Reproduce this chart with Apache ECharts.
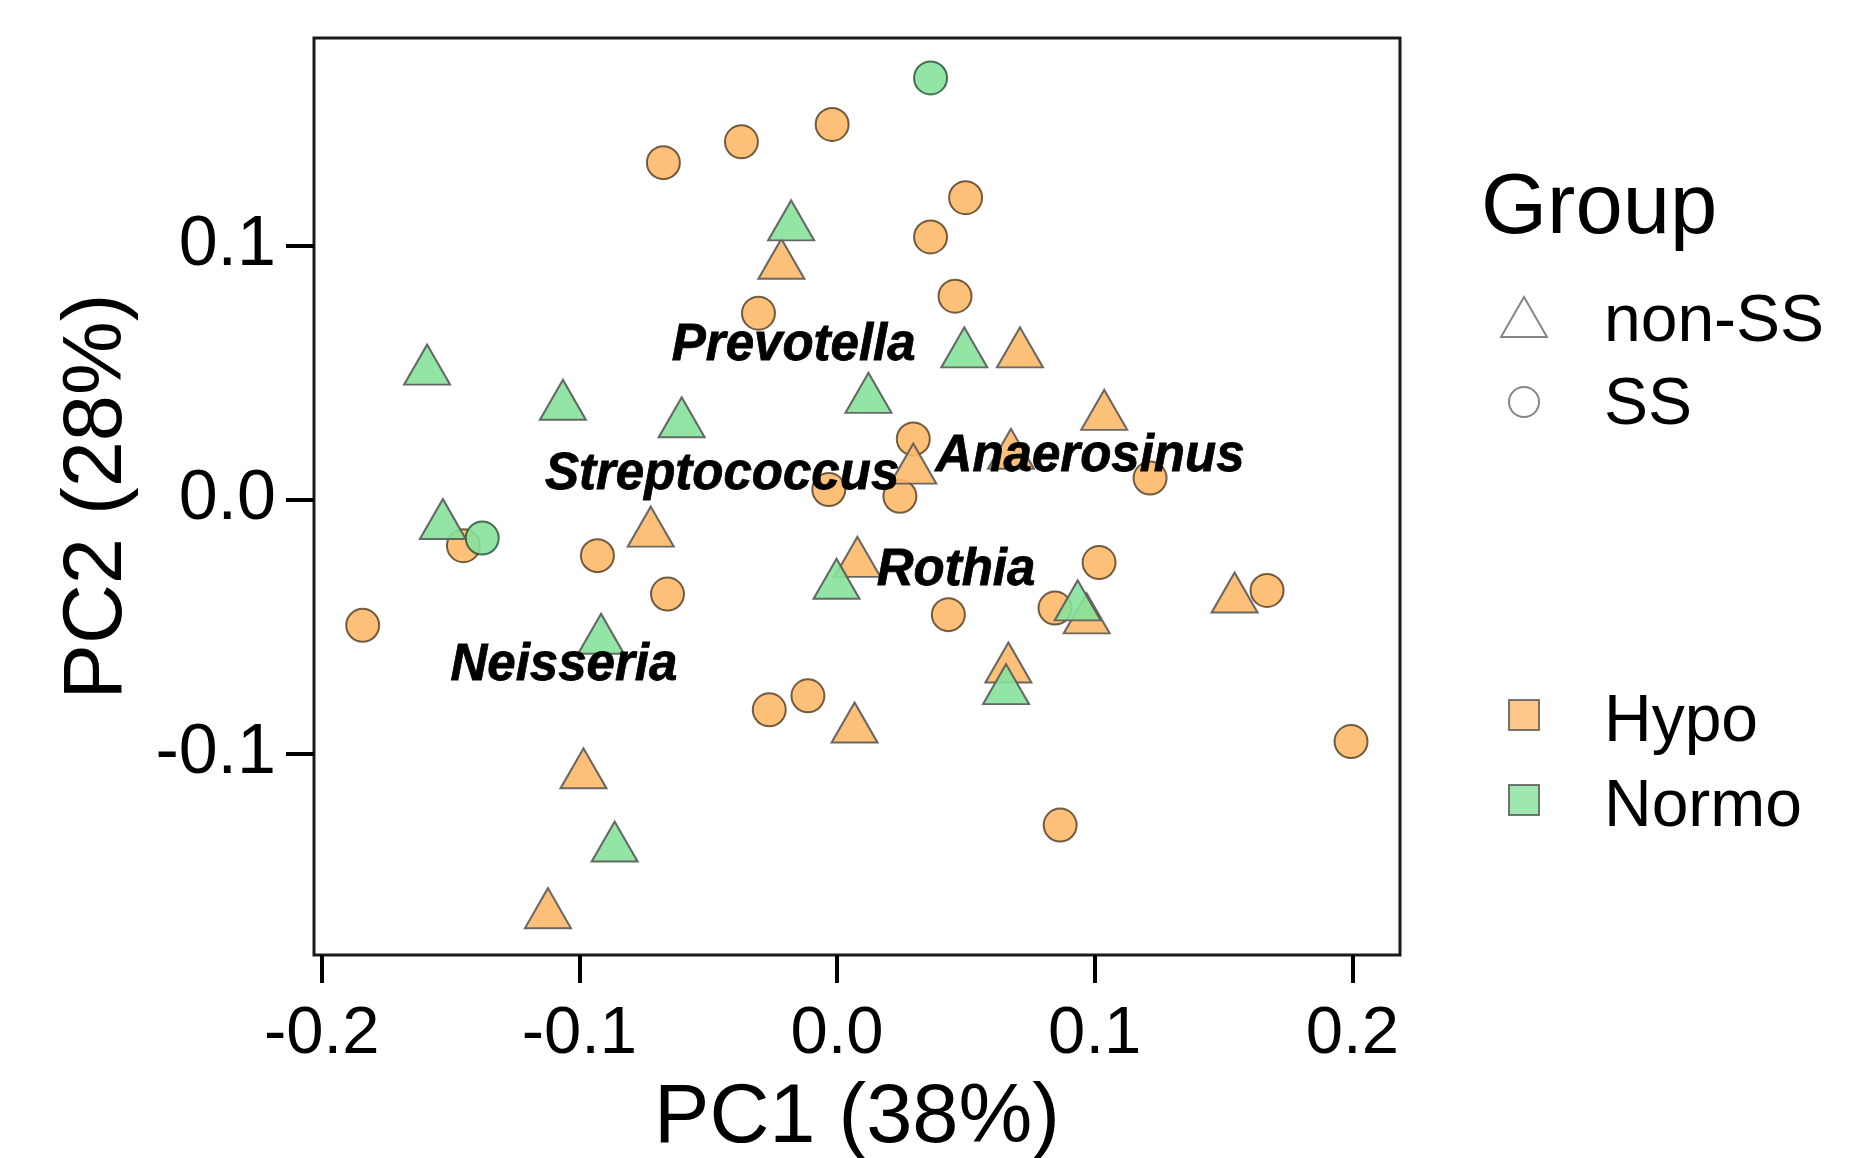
<!DOCTYPE html>
<html>
<head>
<meta charset="utf-8">
<script src="https://cdn.jsdelivr.net/npm/echarts@6/dist/echarts.min.js"></script>
<style>
  html, body { margin: 0; padding: 0; background: #fff; }
  #myChart { width: 1851px; height: 1158px; }
</style>
</head>
<body>
<div id="myChart"></div>
<script>
// PCA scores, [PC1, PC2]
var hypoSS = [
  [-0.0674, 0.1325], [-0.0371, 0.1407], [-0.0019, 0.1475], [0.0499, 0.1187],
  [0.0363, 0.1033], [0.0458, 0.0800], [-0.0305, 0.0733], [0.0296, 0.0239],
  [-0.0032, 0.0040], [0.0244, 0.0013], [0.1215, 0.0085], [-0.1450, -0.0181],
  [-0.0930, -0.0220], [-0.0658, -0.0371], [-0.1841, -0.0494], [0.1017, -0.0247],
  [0.0432, -0.0452], [0.0846, -0.0426], [0.1669, -0.0357], [-0.0263, -0.0826],
  [-0.0113, -0.0771], [0.1995, -0.0951], [0.0866, -0.1279]
];
var normoSS = [
  [0.0363, 0.1658], [-0.1377, -0.0151]
];
var hypoNonSS = [
  [-0.0216, 0.0947], [0.0710, 0.0599], [0.1037, 0.0353], [0.0675, 0.0200],
  [0.0296, 0.0142], [-0.0723, -0.0106], [0.0079, -0.0225], [0.1543, -0.0365],
  [0.0969, -0.0447], [0.0665, -0.0640], [0.0068, -0.0876], [-0.0984, -0.1056],
  [-0.1122, -0.1606]
];
var normoNonSS = [
  [-0.0178, 0.1098], [0.0494, 0.0599], [-0.1591, 0.0531], [-0.1064, 0.0393],
  [-0.0603, 0.0324], [0.0122, 0.0420], [-0.1530, -0.0076], [-0.0002, -0.0311],
  [0.0934, -0.0396], [-0.0916, -0.0527], [0.0656, -0.0725], [-0.0863, -0.1344]
];

// taxa loadings labels
var taxaNames = ['Prevotella', 'Streptococcus', 'Anaerosinus', 'Rothia', 'Neisseria'];
var taxaX = [-0.0168, -0.0446, 0.0982, 0.0462, -0.1060];
var taxaY = [0.0606, 0.0096, 0.0167, -0.0281, -0.0652];

var xTicks = [-0.2, -0.1, 0.0, 0.1, 0.2];
var yTicks = [-0.1, 0.0, 0.1];

var FONT = "'Liberation Sans', Arial, sans-serif";
var ORANGE = '#FDB96A';
var GREEN = '#86E29B';
// legend icons; the trailing move-to pads the icon box so the text sits a bit lower
var TRI = 'path://M0,40 L23,0 L46,40 Z M46,52';
var CIRC = 'path://M0,15 A15,15 0 1,1 30,15 A15,15 0 1,1 0,15 Z M30,38';
var SQ = 'path://M0,0 L30,0 L30,30 L0,30 Z M30,46';

var myChart = echarts.init(document.getElementById('myChart'));

var taxaData = taxaNames.map(function (n, i) { return [taxaX[i], taxaY[i], n]; });

function pointSeries(name, data, symbol, size, fill, border) {
  return {
    name: name,
    type: 'scatter',
    data: data,
    symbol: symbol,
    symbolSize: size,
    itemStyle: { color: fill, borderColor: border, borderWidth: 2, opacity: 0.9 },
    emphasis: { disabled: true }
  };
}

var legendText = { fontFamily: FONT, fontSize: 66, color: '#000' };

var option = {
  animation: false,
  backgroundColor: '#fff',
  title: {
    text: 'Group',
    left: 1481,
    top: 167,
    padding: 0,
    textStyle: { fontFamily: FONT, fontSize: 85, fontWeight: 'normal', color: '#000' }
  },
  grid: {
    left: 314, right: 451, top: 38, bottom: 203,
    outerBoundsMode: 'none',
    show: true, borderColor: '#1a1a1a', borderWidth: 3
  },
  xAxis: {
    type: 'value',
    min: -0.203, max: 0.2185,
    name: 'PC1 (38%)',
    nameLocation: 'middle',
    nameGap: 123,
    nameTextStyle: { fontFamily: FONT, fontSize: 83, color: '#000' },
    axisLine: { show: false, onZero: false },
    splitLine: { show: false },
    axisTick: { show: true, length: 28, customValues: xTicks, lineStyle: { color: '#000', width: 4 } },
    axisLabel: {
      customValues: xTicks, margin: 46,
      fontFamily: FONT, fontSize: 67, color: '#000',
      formatter: function (v) { return v.toFixed(1); }
    }
  },
  yAxis: {
    type: 'value',
    min: -0.179, max: 0.1815,
    name: 'PC2 (28%)',
    nameLocation: 'middle',
    nameGap: 174,
    nameTextStyle: { fontFamily: FONT, fontSize: 83, color: '#000' },
    axisLine: { show: false, onZero: false },
    splitLine: { show: false },
    axisTick: { show: true, length: 28, customValues: yTicks, lineStyle: { color: '#000', width: 4 } },
    axisLabel: {
      customValues: yTicks, margin: 38,
      fontFamily: FONT, fontSize: 70, color: '#000',
      formatter: function (v) { return v.toFixed(1); }
    }
  },
  legend: [
    {
      data: [{ name: 'non-SS', icon: TRI }],
      left: 1500, top: 290, padding: 0,
      itemWidth: 46, itemHeight: 52,
      selectedMode: false,
      textStyle: Object.assign({ padding: [0, 0, 0, 52] }, legendText)
    },
    {
      data: [{ name: 'SS', icon: CIRC }],
      left: 1508, top: 373, padding: 0,
      itemWidth: 30, itemHeight: 38,
      selectedMode: false,
      textStyle: Object.assign({ padding: [0, 0, 0, 60] }, legendText)
    },
    {
      data: [{ name: 'Hypo', icon: SQ }, { name: 'Normo', icon: SQ }],
      orient: 'vertical',
      left: 1508, top: 690, padding: 0,
      itemWidth: 30, itemHeight: 46, itemGap: 19,
      selectedMode: false,
      textStyle: Object.assign({ padding: [0, 0, 0, 60] }, legendText)
    }
  ],
  series: [
    pointSeries('Hypo SS', hypoSS, 'circle', 33, ORANGE, 'rgba(60,40,15,0.8)'),
    pointSeries('Normo SS', normoSS, 'circle', 33, GREEN, 'rgba(20,60,30,0.8)'),
    pointSeries('Hypo non-SS', hypoNonSS, 'triangle', [46, 40], ORANGE, '#5a5a5a'),
    pointSeries('Normo non-SS', normoNonSS, 'triangle', [46, 40], GREEN, '#5a5a5a'),
    // legend-only series
    { name: 'non-SS', type: 'scatter', data: [], itemStyle: { color: 'rgba(0,0,0,0)', borderColor: '#666', borderWidth: 2 } },
    { name: 'SS', type: 'scatter', data: [], itemStyle: { color: 'rgba(0,0,0,0)', borderColor: '#666', borderWidth: 2 } },
    { name: 'Hypo', type: 'scatter', data: [], itemStyle: { color: ORANGE, borderColor: '#555', borderWidth: 2.5 } },
    { name: 'Normo', type: 'scatter', data: [], itemStyle: { color: GREEN, borderColor: '#555', borderWidth: 2.5 } },
    {
      name: 'taxa',
      type: 'scatter',
      data: taxaData,
      symbolSize: 1,
      z: 5,
      itemStyle: { color: 'rgba(0,0,0,0)' },
      emphasis: { disabled: true },
      label: {
        show: true,
        position: 'inside',
        opacity: 1,
        formatter: function (p) { return p.data[2]; },
        fontFamily: FONT, fontSize: 51, fontWeight: 'bold', fontStyle: 'italic',
        color: '#000', textBorderColor: '#000', textBorderWidth: 0.8
      }
    }
  ]
};

myChart.setOption(option);
</script>
</body>
</html>
